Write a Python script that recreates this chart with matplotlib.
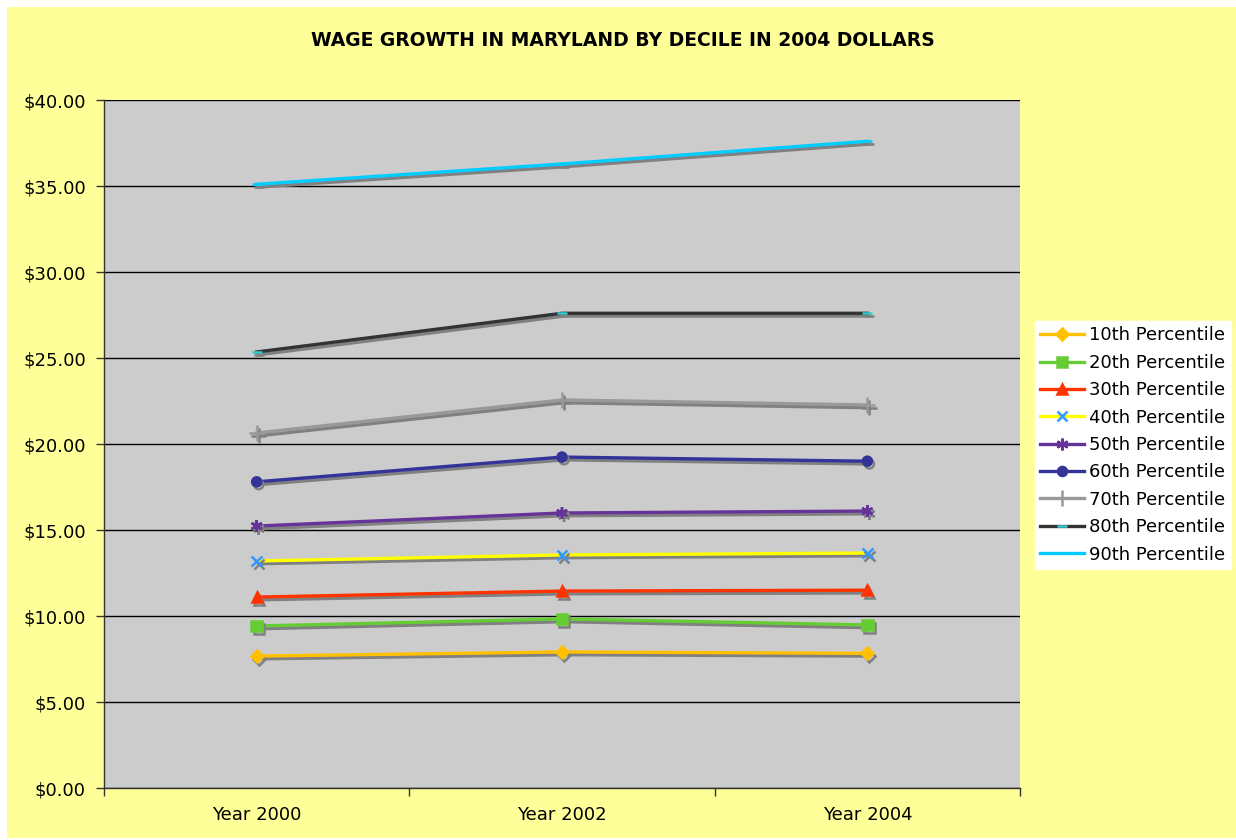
import matplotlib
matplotlib.use("Agg")
import matplotlib.pyplot as plt
import matplotlib.patheffects as pe
from matplotlib.patches import Rectangle

years = ["Year 2000", "Year 2002", "Year 2004"]
labels = ["10th Percentile", "20th Percentile", "30th Percentile", "40th Percentile",
          "50th Percentile", "60th Percentile", "70th Percentile", "80th Percentile",
          "90th Percentile"]
p10 = [7.67, 7.91, 7.83]
p20 = [9.42, 9.83, 9.48]
p30 = [11.10, 11.45, 11.50]
p40 = [13.20, 13.55, 13.66]
p50 = [15.23, 15.99, 16.10]
p60 = [17.80, 19.24, 19.00]
p70 = [20.64, 22.56, 22.27]
p80 = [25.35, 27.60, 27.60]
p90 = [35.10, 36.28, 37.60]
series = [p10, p20, p30, p40, p50, p60, p70, p80, p90]

line_colors = ["#FFC000", "#66CC33", "#FF3300", "#FFFF00", "#663399", "#333399",
               "#999999", "#333333", "#00CCFF"]
marker_colors = ["#FFC000", "#66CC33", "#FF3300", "#3399FF", "#663399", "#333399",
                 "#999999", "#33CCCC", "#00CCFF"]
markers = ["D", "s", "^", "x", (6, 2, 0), "o", "+", "_", "_"]
msizes = [6, 7.5, 7, 7.5, 8.5, 6.5, 11, 7, 7]

fig = plt.figure(figsize=(12.36, 8.4), dpi=100)
fig.patch.set_facecolor("white")
fig.patches.append(Rectangle((7 / 1236, 0.002), 1 - 7 / 1236, 1 - 9 / 840,
                             transform=fig.transFigure, facecolor="#FFFF99",
                             edgecolor="none", zorder=-10))

ax = fig.add_axes([104 / 1236, 1 - 788 / 840, (1020 - 104) / 1236, (788 - 100) / 840])
ax.set_facecolor("#CCCCCC")

x = list(range(len(years)))
shadow = [pe.SimpleLineShadow(offset=(1.5, -2.0), shadow_color="#808080", alpha=1.0),
          pe.Normal()]
for vals, lab, lc, mc, mk, ms in zip(series, labels, line_colors, marker_colors,
                                      markers, msizes):
    ax.plot(x, vals, color=lc, lw=2.4, marker=mk, markersize=ms,
            markerfacecolor=mc, markeredgecolor=mc, markeredgewidth=1.8,
            label=lab, path_effects=shadow, zorder=3)

ax.set_xlim(-0.5, 2.5)
ax.set_ylim(0, 40)
ax.set_yticks(range(0, 41, 5))
ax.set_yticklabels([f"${v:.2f}" for v in range(0, 41, 5)])
ax.set_xticks(x)
ax.set_xticklabels(years)
ax.set_xticks([-0.5, 0.5, 1.5, 2.5], minor=True)
ax.tick_params(axis="x", which="major", length=0, pad=13, labelsize=13, colors="black")
ax.tick_params(axis="x", which="minor", length=6, width=1, color="#333333", direction="out")
ax.tick_params(axis="y", length=6, width=1, color="#333333", pad=7, labelsize=13)
ax.yaxis.grid(True, color="black", lw=1)
ax.set_axisbelow(True)
for s in ["right", "top"]:
    ax.spines[s].set_visible(False)
for s in ["left", "bottom"]:
    ax.spines[s].set_color("#333333")
    ax.spines[s].set_linewidth(1)

fig.text(623 / 1236, 1 - 40 / 840, "WAGE GROWTH IN MARYLAND BY DECILE IN 2004 DOLLARS",
         ha="center", va="center", fontsize=13.5, fontweight="bold")

leg = ax.legend(loc="center left", bbox_to_anchor=(1035 / 1236, 1 - 445 / 840),
                bbox_transform=fig.transFigure, frameon=True, fancybox=False,
                fontsize=13, handlelength=2.4, handletextpad=0.3,
                labelspacing=0.52, borderpad=0.3, borderaxespad=0)
leg.get_frame().set_facecolor("white")
leg.get_frame().set_edgecolor("white")
leg.get_frame().set_alpha(1)
for h in leg.legend_handles:
    h.set_path_effects([])

fig.savefig("out.png", dpi=100, facecolor=fig.get_facecolor())
